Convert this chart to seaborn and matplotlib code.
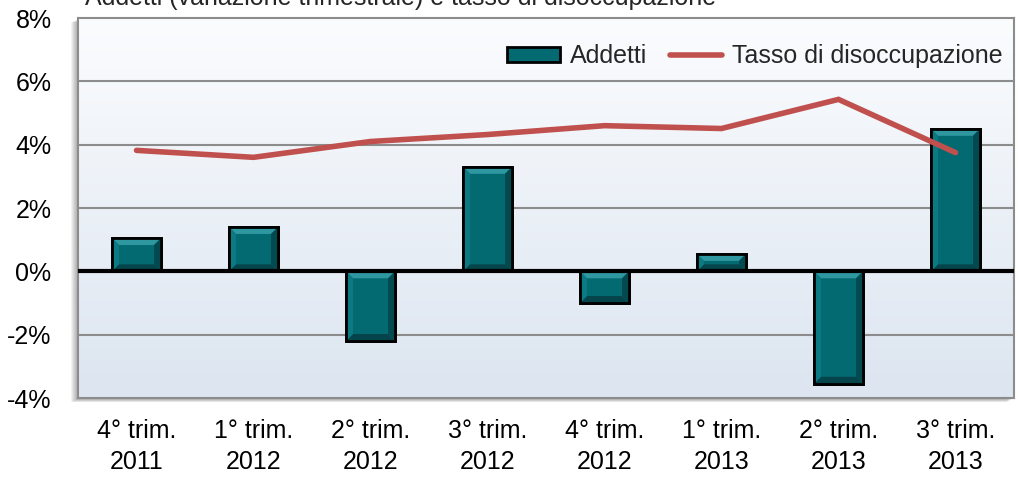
import numpy as np
import pandas as pd
import matplotlib
matplotlib.use("Agg")
import matplotlib.pyplot as plt
import seaborn as sns
from matplotlib.patches import Polygon, Patch, Rectangle
from matplotlib.lines import Line2D
from matplotlib.ticker import FuncFormatter
from matplotlib.colors import LinearSegmentedColormap

# dati
trimestri = ["4° trim.\n2011", "1° trim.\n2012", "2° trim.\n2012", "3° trim.\n2012",
             "4° trim.\n2012", "1° trim.\n2013", "2° trim.\n2013", "3° trim.\n2013"]
addetti = [1.05, 1.4, -2.2, 3.3, -1.0, 0.55, -3.55, 4.5]
disoccupazione = [3.82, 3.6, 4.1, 4.32, 4.6, 4.51, 5.43, 3.75]
y_ticks = [-4, -2, 0, 2, 4, 6, 8]
titolo = "Addetti (variazione trimestrale) e tasso di disoccupazione"

df = pd.DataFrame({"trimestre": trimestri, "addetti": addetti,
                   "disoccupazione": disoccupazione})

sns.set_style("white")
plt.rcParams["font.family"] = ["Liberation Sans", "DejaVu Sans"]
FS = 18

W, H = 1018, 479
fig = plt.figure(figsize=(W / 100, H / 100), dpi=100)
fig.patch.set_facecolor("white")

left, right, top, bottom = 78, 1014, 18, 398
ax = fig.add_axes([left / W, (H - bottom) / H, (right - left) / W, (bottom - top) / H])
ax.set_zorder(2)

# ombra a sinistra/basso dell'area del grafico
for i in range(7):
    fig.patches.append(Rectangle(((left - 7 + i) / W, (H - bottom - 4 + i * 0.5) / H),
                                 (right - left) / W, (bottom - top) / H,
                                 transform=fig.transFigure, facecolor="black",
                                 alpha=0.05, edgecolor="none", zorder=0))

# sfondo sfumato
grad = np.linspace(0, 1, 256).reshape(-1, 1)
cmap = LinearSegmentedColormap.from_list("bg", ["#fbfcfe", "#dce5f0"])
ax.imshow(grad, aspect="auto", cmap=cmap, extent=[-0.5, 7.5, -4, 8], origin="upper",
          zorder=0)

sns.barplot(data=df, x="trimestre", y="addetti", color="#046a72", width=0.42,
            edgecolor="black", linewidth=2, saturation=1, ax=ax, zorder=3)

# effetto rilievo sulle barre
for p in list(ax.patches):
    x0, w = p.get_x(), p.get_width()
    y0, h = p.get_y(), p.get_height()
    ya, yb = min(y0, y0 + h), max(y0, y0 + h)
    x1 = x0 + w
    bx = min(0.06, w / 2)
    by = min(0.22, (yb - ya) / 2)
    polys = [
        ([(x0, yb), (x1, yb), (x1 - bx, yb - by), (x0 + bx, yb - by)], "#2e97a0"),
        ([(x0, ya), (x1, ya), (x1 - bx, ya + by), (x0 + bx, ya + by)], "#05444a"),
        ([(x0, ya), (x0, yb), (x0 + bx, yb - by), (x0 + bx, ya + by)], "#0b7a82"),
        ([(x1, ya), (x1, yb), (x1 - bx, yb - by), (x1 - bx, ya + by)], "#034a50"),
    ]
    for pts, c in polys:
        ax.add_patch(Polygon(pts, closed=True, facecolor=c, edgecolor="none", zorder=3.5))
    ax.add_patch(Rectangle((x0, ya), w, yb - ya, facecolor="none", edgecolor="black",
                           linewidth=2, zorder=3.6))

sns.lineplot(x=np.arange(len(trimestri)), y=df["disoccupazione"], color="#c0504d",
             linewidth=4, solid_capstyle="round", solid_joinstyle="miter",
             ax=ax, zorder=4)

ax.set_xlim(-0.5, 7.5)
ax.set_ylim(-4, 8)
ax.set_yticks(y_ticks)
ax.yaxis.set_major_formatter(FuncFormatter(lambda v, _: f"{v:.0f}%"))
for t in y_ticks:
    if t not in (0, -4, 8):
        ax.axhline(t, color="#8c8c8c", linewidth=1.5, zorder=1)
ax.axhline(0, color="black", linewidth=3, zorder=3.8)
ax.set_xlabel("")
ax.set_ylabel("")
ax.tick_params(axis="both", length=0, labelsize=FS, colors="black")
ax.tick_params(axis="y", pad=19)
ax.tick_params(axis="x", pad=15)
plt.setp(ax.get_xticklabels(), linespacing=1.4)
for s in ax.spines.values():
    s.set_color("#8c8c8c")
    s.set_linewidth(1.5)

handles = [Patch(facecolor="#046a72", edgecolor="black", linewidth=2),
           Line2D([0], [0], color="#c0504d", linewidth=4, solid_capstyle="round")]
ax.legend(handles, ["Addetti", "Tasso di disoccupazione"], loc="upper right",
          bbox_to_anchor=(1.012, 0.99), ncol=2, frameon=False, fontsize=FS,
          handlelength=2.1, handleheight=0.6, handletextpad=0.4, columnspacing=0.9)

fig.text(85 / W, (H - 5) / H, titolo, fontsize=FS, va="baseline", ha="left")

fig.savefig("out.png", dpi=100)
